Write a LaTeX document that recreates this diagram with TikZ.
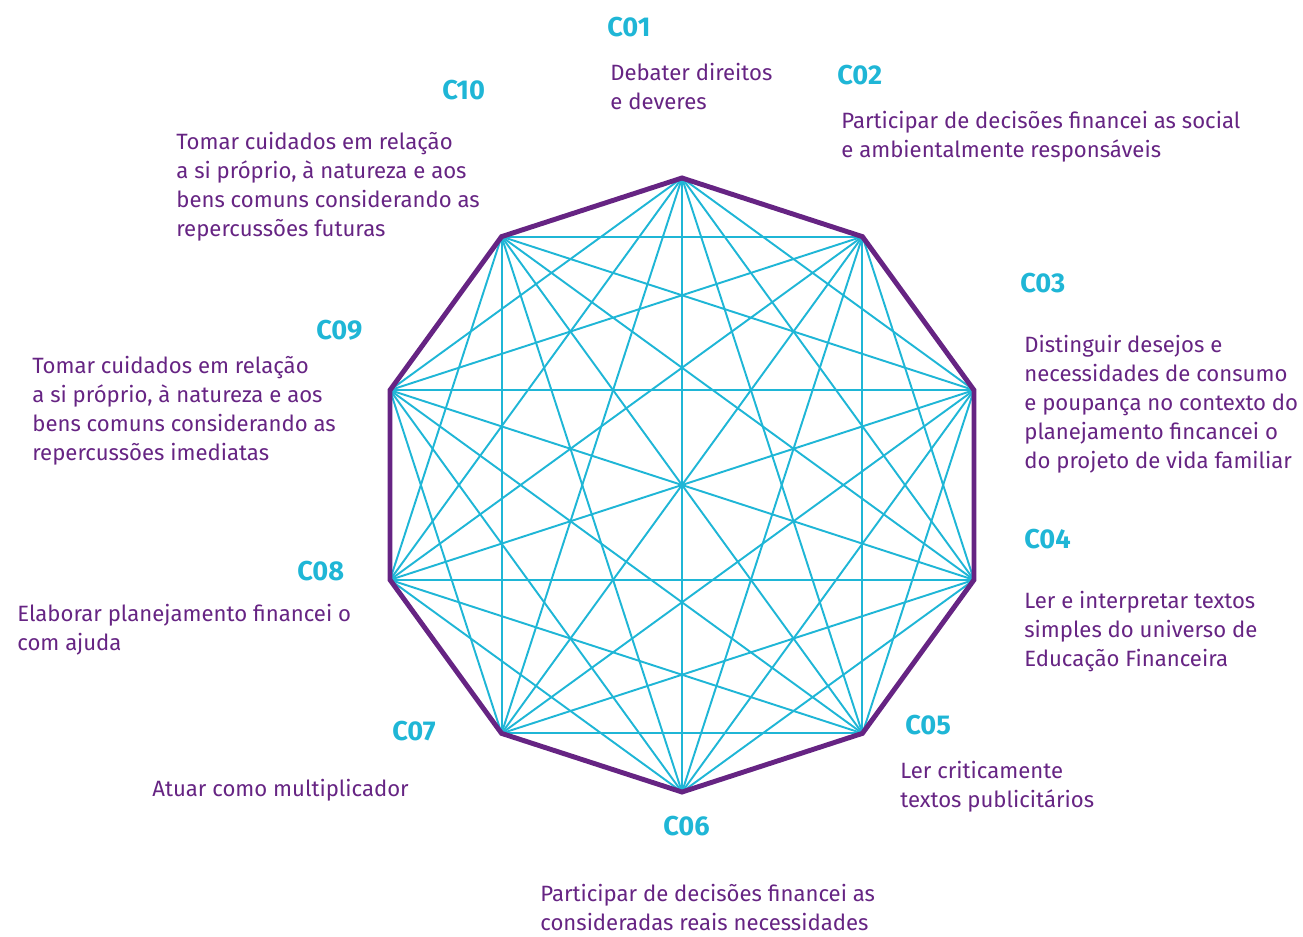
\documentclass[tikz,border=0pt]{standalone}
\usepackage{fontspec}
\setmainfont{Fira Sans}
\usepackage{tikz}
\usetikzlibrary{positioning}
\usepackage{xcolor}
\definecolor{cciano}{RGB}{31,182,214}
\definecolor{croxo}{RGB}{102,36,131}

\begin{document}
\begin{tikzpicture}[x=0.02cm, y=-0.02cm,
		codigo/.style={anchor=west, inner sep=0pt, text=cciano, font=\fontsize{15.5}{17}\selectfont\bfseries},
		texto/.style={anchor=north west, inner sep=0pt, align=left, text=croxo, font=\fontsize{12.6}{16.5}\selectfont},
		diagonal/.style={cciano, line width=1.1pt},
		borda/.style={croxo, line width=2.8pt, line join=miter}]
				    		\useasboundingbox (0, 0) rectangle (1303, 937);
				    		% vertices do decagono
				    		\foreach \i in {1,...,10}
				    			\coordinate (v\i) at ({682+307*cos(90-36*(\i-1))}, {485-307*sin(90-36*(\i-1))});
				    		% diagonais
				    		\foreach \i in {1,...,8} {
				    			\pgfmathtruncatemacro{\primeiro}{\i+2}
				    			\pgfmathtruncatemacro{\ultimo}{\i==1 ? 9 : 10}
				    			\foreach \j in {\primeiro,...,\ultimo}
				    				\draw[diagonal] (v\i) -- (v\j);
				    		}
				    		\draw[borda] (v1) -- (v2) -- (v3) -- (v4) -- (v5) -- (v6) -- (v7) -- (v8) -- (v9) -- (v10) -- cycle;
				    		% rotulos
				    		\node[codigo] (c01) at (607, 27) {C01};
				    		\node[texto] (d01) at (610, 63) {Debater direitos\\e deveres};
				    		\node[codigo] (c02) at (837, 75) {C02};
				    		\node[texto] (d02) at (841, 111) {Participar de decisões financei as social\\e ambientalmente responsáveis};
				    		\node[codigo] (c03) at (1020, 283) {C03};
				    		\node[texto] (d03) at (1024, 335) {Distinguir desejos e\\necessidades de consumo\\e poupança no contexto do\\planejamento fincancei o\\do projeto de vida familiar};
				    		\node[codigo] (c04) at (1024, 539) {C04};
				    		\node[texto] (d04) at (1024, 591) {Ler e interpretar textos\\simples do universo de\\Educação Financeira};
				    		\node[codigo] (c05) at (905, 725) {C05};
				    		\node[texto] (d05) at (900, 761) {Ler criticamente\\textos publicitários};
				    		\node[codigo] (c06) at (663, 826) {C06};
				    		\node[texto] (d06) at (540, 884) {Participar de decisões financei as\\consideradas reais necessidades};
				    		\node[codigo] (c07) at (392, 731) {C07};
				    		\node[texto] (d07) at (152, 779) {Atuar como multiplicador};
				    		\node[codigo] (c08) at (297, 571) {C08};
				    		\node[texto] (d08) at (17, 604) {Elaborar planejamento financei o\\com ajuda};
				    		\node[codigo] (c09) at (316, 330) {C09};
				    		\node[texto] (d09) at (32, 356) {Tomar cuidados em relação\\a si próprio, à natureza e aos\\bens comuns considerando as\\repercussões imediatas};
				    		\node[codigo] (c10) at (442, 90) {C10};
				    		\node[texto] (d10) at (176, 132) {Tomar cuidados em relação\\a si próprio, à natureza e aos\\bens comuns considerando as\\repercussões futuras};
				    	\end{tikzpicture}
\end{document}
